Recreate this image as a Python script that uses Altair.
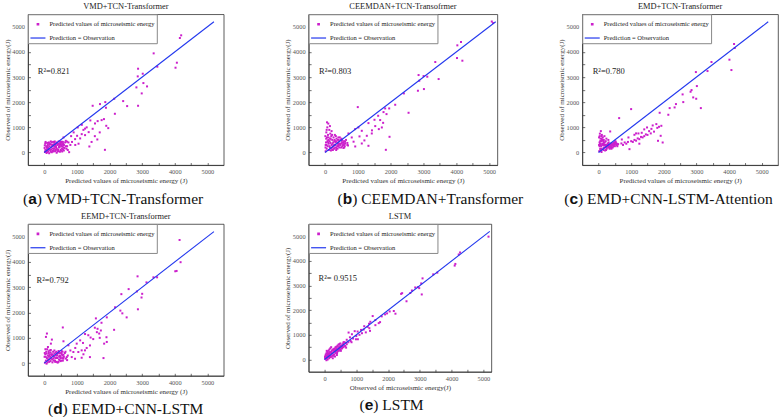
import altair as alt
import pandas as pd

SER_PTS = "Predicted values of microseismic energy"
SER_LINE = "Prediction = Observation"
MAG = "#cc1fcc"
BLUE = "#2338ee"
TICKS = [0, 500, 1000, 1500, 2000, 2500, 3000, 3500, 4000, 4500, 5000]
LINE_X = [0, 5200]
LINE_Y = [0, 5200]
Y_TITLE = "Observed of microseismic energy(J)"

# ---------------- panel (a) VMD+TCN-Transformer ----------------
A_PRED_OUT = [4196, 4156, 3353, 3465, 4064, 4023, 2875, 2865, 3018, 3038,
              3150, 2824, 2987, 2875, 2540, 2418, 2144, 2164, 1870, 1890,
              1707, 1483, 1829, 1758, 1961, 1900, 1636, 1555, 1412, 1483,
              1361, 1626, 1859, 1382, 1250, 1148, 1026, 1006, 945, 823,
              742, 762, 660, 589, 518, 1300, 1200, 1100, 900, 850,
              1050, 1700, 1550, 1450, 700, 800, 950, 600, 680, 1150, 1250]
A_OBS_OUT = [4661, 4555, 3944, 3413, 3572, 3373, 3333, 3028, 3134, 2762,
             2629, 2590, 2351, 1859, 1846, 2045, 2138, 1540, 2005, 1780,
             1926, 1859, 1328, 1288, 969, 1062, 1248, 1155, 1275, 943,
             810, 518, 106, 239, 691, 730, 996, 664, 531, 651,
             398, 13, 465, 598, 398, 1000, 900, 560, 800, 420,
             350, 800, 650, 420, 250, 300, 300, 300, 150, 1100, 950]
A_PRED_CORE = [20, 50, 80, 110, 140, 30, 60, 90, 120, 150,
               180, 210, 240, 270, 300, 330, 360, 390, 420, 450,
               480, 510, 540, 570, 600, 40, 70, 100, 160, 200,
               230, 260, 290, 320, 350, 380, 410, 440, 470, 500,
               530, 560, 590, 620, 10, 130, 190, 250, 310, 370,
               430, 490, 550, 580, 640, 700, 660, 720,
               15, 45, 75, 105, 135, 165, 195, 225, 255, 285,
               315, 345, 375, 405, 435, 465, 495, 525, 555, 585,
               35, 95, 155, 215, 275, 335, 395, 455, 515, 575]
A_OBS_CORE = [20, 100, 200, 300, 400, 350, 250, 150, 50, -30,
              100, 200, 300, 420, 150, 50, 250, 350, 120, 220,
              30, 330, 160, 420, 80, 420, -20, 380, 250, 440,
              10, 160, 320, 440, 100, -10, 300, 440, 200, 100,
              430, 250, 300, 180, 180, 180, 330, 60, 230, 180,
              60, 380, 40, 350, 400, 430, 250, 100,
              280, 380, 60, 240, 120, 330, 30, 400, 260, 90,
              380, 200, 400, 40, 350, 280, 420, 80, 330, 200,
              100, 20, 360, 120, 40, 300, 120, 330, 260, 120]

# ---------------- panel (b) CEEMDAN ----------------
B_PRED_OUT = [4143, 4031, 4184, 4021, 3359, 3461, 3115, 3003, 2850, 2871,
              2830, 3013, 2545, 2402, 2138, 1955, 1873, 1782, 1832, 1619,
              1507, 1323, 1965, 1853, 1731, 1639, 1425, 1273, 1120, 998,
              1018, 916, 814, 713, 611, 509, 407, 1323, 1120, 1530,
              1430, 1200, 1050, 870, 680, 920, 1770, 1680, 5080, 5120]
B_OBS_OUT = [4396, 4263, 3652, 3758, 3599, 2922, 3015, 3041, 3081, 2855,
             2457, 2523, 1580, 2350, 1899, 1753, 1527, 1607, 1753, 1461,
             1301, 1169, 624, 106, 996, 930, 757, 664, 863, 1806,
             996, 930, 598, 757, 425, 465, 598, 266, 358, 1050,
             880, 480, 640, 430, 300, 240, 1180, 1290, 5210, 5150]
B_PRED_CORE = [20, 50, 80, 110, 140, 170, 30, 60, 90, 40,
               70, 100, 60, 130, 160, 190, 220, 250, 280, 310,
               340, 370, 400, 430, 460, 490, 520, 550, 580, 610,
               200, 230, 260, 290, 320, 350, 380, 410, 150, 120,
               180, 240, 300, 200, 100, 20, 10, 50, 150, 330,
               450, 500, 640, 680, 560, 700, 600,
               15, 45, 75, 105, 135, 165, 195, 225, 255, 285,
               315, 345, 375, 405, 435, 465, 495, 525, 555, 585,
               35, 95, 155, 215, 275, 335, 395, 455, 515, 575]
B_OBS_CORE = [50, 150, 250, 350, 450, 550, 400, 600, 700, 800,
              1000, 1150, 1200, 900, 750, 650, 500, 400, 300, 200,
              100, 250, 350, 450, 300, 200, 400, 300, 450, 350,
              300, 200, 600, 500, 400, 550, 150, 250, 200, 100,
              80, 100, 700, 850, 500, 300, 650, 900, 1050, 650,
              600, 550, 500, 380, 180, 280, 250,
              200, 300, 450, 600, 250, 380, 150, 350, 250, 450,
              300, 180, 400, 300, 200, 500, 350, 250, 380, 200,
              550, 400, 550, 700, 150, 450, 500, 350, 500, 300]

# ---------------- panel (c) EMD ----------------
C_PRED_OUT = [4153, 4174, 3461, 4011, 4072, 2983, 3339, 3013, 2850, 2820,
              2901, 2993, 3135, 2576, 2596, 2372, 2331, 2179, 2138, 1873,
              1771, 1853, 1924, 1659, 1486, 1323, 1904, 1965, 1822, 998,
              631, 1222, 1099, 916, 947, 713, 509, 356, 600, 700,
              800, 900, 1000, 1100, 1200, 1300, 1400, 1500, 1600, 1700,
              750, 850, 1050, 1150, 1250, 1350, 1450, 1550, 1620, 1800,
              1250, 1400, 1150]
C_OBS_OUT = [4316, 4157, 3599, 3692, 3280, 3200, 3240, 2643, 2483, 2417,
             2191, 2138, 1766, 2311, 2005, 1926, 1793, 1766, 1501, 1580,
             1129, 1023, 1062, 1076, 996, 784, 664, 398, 465, 1726,
             1368, 757, 704, 598, 133, 518, 398, 837, 330, 360,
             400, 420, 450, 500, 560, 620, 650, 700, 760, 830,
             300, 350, 420, 470, 530, 600, 720, 850, 940, 980,
             350, 920, 760]
C_PRED_CORE = [20, 50, 80, 110, 140, 170, 200, 230, 260, 290,
               320, 350, 380, 410, 440, 470, 500, 530, 560, 30,
               60, 90, 40, 70, 100, 130, 160, 190, 220, 250,
               280, 310, 340, 370, 30, 60, 100, 150, 200, 15,
               120, 240, 300, 180, 50, 90, 400, 450, 500, 70, 160,
               15, 45, 75, 105, 135, 165, 195, 225, 255, 285,
               315, 345, 375, 405, 435, 465, 495, 525, 555, 585,
               35, 95, 155, 215, 275, 335, 395, 455, 515, 575]
C_OBS_CORE = [50, 150, 250, 350, 450, 300, 200, 100, 300, 250,
              200, 300, 250, 350, 300, 380, 320, 400, 350, 400,
              550, 650, 750, 850, 700, 600, 500, 400, 450, 150,
              350, 400, 150, 200, 250, 100, 150, 100, 80, 600,
              500, 550, 500, 650, 450, 20, 200, 250, 250, 300, 200,
              300, 350, 450, 500, 300, 400, 300, 250, 200, 350,
              300, 250, 350, 300, 200, 300, 400, 350, 300, 330,
              650, 550, 350, 300, 250, 200, 150, 380, 450, 250]

# ---------------- panel (d) EEMD ----------------
D_PRED_OUT = [4147, 4178, 4056, 4015, 3458, 3346, 3133, 2859, 2839, 3001,
              2981, 2870, 2586, 2363, 2170, 2332, 2393, 2525, 2140, 1916,
              1754, 1582, 1734, 1612, 1633, 1683, 1906, 1916, 1835, 1815,
              1349, 1420, 1186, 1247, 1146, 1044, 994, 568, 588, 740,
              892, 690, 842, 943, 1146, 1399, 81, 51, 233, 203,
              112, 1300, 1100, 1500, 1400, 800, 950, 1200, 650, 1700,
              1550, 1250]
D_OBS_OUT = [4868, 3990, 3644, 3631, 3392, 3392, 3192, 3431, 2833, 2740,
             2594, 2128, 2926, 2727, 2208, 2075, 1968, 1809, 1317, 1809,
             1596, 1769, 1290, 1224, 1357, 1170, 1024, 838, 771, 200,
             1104, 1011, 798, 505, 505, 439, 771, 1410, 864, 705,
             439, 239, 239, 173, 213, 239, 1170, 1037, 931, 771,
             638, 600, 900, 950, 700, 500, 600, 350, 450, 1000,
             1400, 1150]
D_PRED_CORE = [20, 50, 80, 110, 140, 170, 30, 60, 90, 120,
               150, 180, 210, 240, 270, 300, 330, 360, 390, 420,
               450, 480, 510, 540, 570, 600, 630, 200, 250, 310,
               380, 440, 500, 560, 10, 70, 130, 190, 280, 350,
               410, 470, 530, 590, 660, 720, 700,
               15, 45, 75, 105, 135, 165, 195, 225, 255, 285,
               315, 345, 375, 405, 435, 465, 495, 525, 555, 585,
               35, 95, 155, 215, 275, 335, 395, 455, 515, 575]
D_OBS_CORE = [20, 100, 200, 300, 400, 500, 350, 450, 550, 150,
              50, 250, 350, 150, 450, 250, 100, 300, 200, 400,
              150, 300, 200, 350, 100, 250, 400, 520, 30, 500,
              50, 480, 80, 450, 250, -20, 470, 80, 180, 420,
              20, 120, 480, 330, 180, 300, 120,
              400, 250, 380, 100, 250, 150, 420, 300, 350, 100,
              380, 200, 450, 300, 50, 400, 250, 100, 300, 180,
              550, 30, 320, 200, 300, 50, 350, 250, 400, 200]

# ---------------- panel (e) LSTM ----------------
E_PRED_OUT = [5160, 4265, 4223, 4117, 4096, 3549, 3422, 3085, 3043, 2938,
              2980, 2854, 2411, 2443, 2580, 2180, 2232, 1969, 1906, 1748,
              1706, 1601, 1516, 1443, 1358, 1432, 1411, 1232, 1179, 1042,
              990, 863, 758, 821, 674, 3060, 1600, 1800, 1250, 1100,
              1000, 900, 950, 800, 700, 650, 600, 1300, 1400, 1150,
              850, 1050, 2050, 2700, 2750]
E_OBS_OUT = [4986, 4344, 4262, 3879, 3811, 3524, 3456, 3292, 3087, 2937,
             2896, 2923, 2664, 2691, 2363, 1967, 1858, 1871, 1830, 1516,
             1475, 1393, 1762, 1530, 1325, 1161, 1270, 1216, 1065, 1134,
             820, 1024, 1093, 751, 683, 2640, 1600, 1750, 1350, 1000,
             950, 850, 1150, 900, 800, 550, 700, 1100, 1450, 1200,
             700, 820, 1950, 2700, 2800]
E_PRED_CORE = [20, 50, 80, 110, 140, 170, 200, 230, 260, 290,
               320, 350, 380, 410, 440, 470, 500, 530, 560, 590,
               620, 30, 60, 90, 120, 150, 180, 210, 100, 150,
               200, 250, 300, 350, 400, 450, 500, 550, 600, 650,
               40, 70, 120, 180, 240, 300, 360, 420, 480, 260,
               330, 390, 60, 700, 680, 750,
               15, 45, 75, 105, 135, 165, 195, 225, 255, 285,
               315, 345, 375, 405, 435, 465, 495, 525, 555, 585,
               35, 95, 155, 215, 275, 335, 395, 455, 515, 575]
E_OBS_CORE = [30, 80, 120, 150, 200, 250, 300, 350, 380, 420,
              450, 500, 520, 560, 600, 630, 650, 550, 600, 650,
              700, 150, 250, 300, 350, 400, 450, 500, 0, 50,
              100, 150, 200, 250, 300, 350, 400, 450, 500, 550,
              200, 350, 250, 150, 250, 330, 380, 420, 500, 50,
              120, 180, -30, 620, 480, 700,
              100, 150, 50, 250, 100, 300, 150, 250, 400, 200,
              350, 300, 450, 350, 500, 400, 550, 450, 500, 600,
              60, 200, 100, 300, 150, 400, 250, 450, 350, 500]

PANELS = [
    dict(pred=A_PRED_OUT + A_PRED_CORE, obs=A_OBS_OUT + A_OBS_CORE,
         title="VMD+TCN-Transformer", xtitle="Predicted values of microseismic energy (J)",
         r2="R²=0.821", r2x=-200, r2y=3120, letter="a", lw=8.6,
         caption="VMD+TCN-Transformer", capx=-5, w=196, h=151, xmax=5500),
    dict(pred=B_PRED_OUT + B_PRED_CORE, obs=B_OBS_OUT + B_OBS_CORE,
         title="CEEMDAN+TCN-Transofrmer", xtitle="Predicted values of microseismic energy (J)",
         r2="R²=0.803", r2x=-180, r2y=3120, letter="b", lw=9.5,
         caption="CEEMDAN+Transformer", capx=29, w=189, h=151, xmax=5250),
    dict(pred=C_PRED_OUT + C_PRED_CORE, obs=C_OBS_OUT + C_OBS_CORE,
         title="EMD+TCN-Transformer", xtitle="Predicted values of microseismic energy (J)",
         r2="R²=0.780", r2x=-180, r2y=3120, letter="c", lw=8.6,
         caption="EMD+CNN-LSTM-Attention", capx=-18, w=196, h=151, xmax=5500),
    dict(pred=D_PRED_OUT + D_PRED_CORE, obs=D_OBS_OUT + D_OBS_CORE,
         title="EEMD+TCN-Transformer", xtitle="Predicted values of microseismic energy (J)",
         r2="R²=0.792", r2x=-235, r2y=3170, letter="d", lw=9.5,
         caption="EEMD+CNN-LSTM", capx=20, w=196, h=152, xmax=5500),
    dict(pred=E_PRED_OUT + E_PRED_CORE, obs=E_OBS_OUT + E_OBS_CORE,
         title="LSTM", xtitle="Observed of microseismic energy(J)",
         r2="R²= 0.9515", r2x=-185, r2y=3170, letter="e", lw=8.6,
         caption="LSTM", capx=51, w=183, h=148, xmax=5250),
]

AX_MAIN = dict(values=TICKS, labelExpr="datum.value % 1000 === 0 ? '' + datum.value : ''",
               labelOverlap=False, labelFlush=False,
               labelFont="Liberation Serif", labelFontSize=6.4, labelColor="#555",
               titleFont="Liberation Serif", titleFontSize=7, titleColor="#333",
               titleFontWeight="normal", domainColor="#333", domainWidth=0.8,
               ticks=False, labelPadding=3.5, titlePadding=1.5, grid=False)
AX_TICK = dict(values=TICKS, labels=False, domain=False, ticks=True, tickSize=2.5,
               tickColor="#333", tickWidth=0.7, title=None, grid=False)

IS_LINE = f"datum.value === '{SER_LINE}'"
LEG = alt.Legend(
    title=None, orient="top-left", offset=0, padding=1.5,
    fillColor="white", strokeColor="#888",
    labelFont="Liberation Serif", labelFontSize=6.5, labelColor="#222",
    labelOffset=3, rowPadding=1.8, symbolSize=225, symbolStrokeWidth=1.2,
    symbolOpacity=1,
    symbolType={"expr": f"{IS_LINE} ? 'stroke' : 'M-0.1,-0.1H0.1V0.1H-0.1Z'"},
    symbolFillColor={"expr": f"{IS_LINE} ? 'transparent' : '{MAG}'"},
    symbolStrokeColor={"expr": f"{IS_LINE} ? '{BLUE}' : 'transparent'"})


def build(p):
    pts = pd.DataFrame({"x": p["pred"], "y": p["obs"], "s": SER_PTS})
    ln = pd.DataFrame({"x": LINE_X, "y": LINE_Y, "s": SER_LINE})
    xs = alt.Scale(domain=[-500, p["xmax"]], nice=False, zero=False)
    ys = alt.Scale(domain=[-500, 5500], nice=False, zero=False)
    color = alt.Color("s:N", scale=alt.Scale(domain=[SER_PTS, SER_LINE], range=[MAG, BLUE]),
                      legend=LEG)
    points = alt.Chart(pts).mark_square(size=4, opacity=1).encode(
        x=alt.X("x:Q", scale=xs, axis=alt.Axis(title=p["xtitle"], **AX_MAIN)),
        y=alt.Y("y:Q", scale=ys, axis=alt.Axis(title=Y_TITLE, **AX_MAIN)),
        color=color)
    line = alt.Chart(ln).mark_line(strokeWidth=1.1, clip=True).encode(
        x=alt.X("x:Q", scale=xs, axis=alt.Axis(orient="bottom", offset=-2.5, **AX_TICK)),
        y=alt.Y("y:Q", scale=ys, axis=alt.Axis(orient="left", offset=-2.5, **AX_TICK)),
        color=color)
    r2df = pd.DataFrame({"x": [p["r2x"]], "y": [p["r2y"]], "t": [p["r2"]]})
    r2 = alt.Chart(r2df).mark_text(align="left", baseline="alphabetic",
                                   font="Liberation Serif", fontSize=8.5, color="#222").encode(
        x=alt.X("x:Q", scale=xs, axis=None), y=alt.Y("y:Q", scale=ys, axis=None), text="t:N")
    cy = p["h"] + 38.7
    c0 = p["capx"]
    cap_df = pd.DataFrame({"a": ["("], "b": [p["letter"]], "c": [") " + p["caption"]]})
    cap1 = alt.Chart(cap_df).mark_text(align="left", baseline="alphabetic",
                                       font="Liberation Serif", fontSize=15.5, color="#111").encode(
        x=alt.value(c0), y=alt.value(cy), text="a:N")
    cap2 = alt.Chart(cap_df).mark_text(align="left", baseline="alphabetic",
                                       font="Liberation Sans", fontWeight="bold",
                                       fontSize=15.5, color="#111").encode(
        x=alt.value(c0 + 5.2), y=alt.value(cy), text="b:N")
    cap3 = alt.Chart(cap_df).mark_text(align="left", baseline="alphabetic",
                                       font="Liberation Serif", fontSize=15.5, color="#111").encode(
        x=alt.value(c0 + 5.2 + p["lw"]), y=alt.value(cy), text="c:N")
    return alt.layer(points, line, r2, cap1, cap2, cap3).resolve_axis(
        x="independent", y="independent").properties(
        width=p["w"], height=p["h"],
        title=alt.Title(p["title"], font="Liberation Serif", fontSize=8.4,
                        fontWeight="normal", color="#222", offset=3, anchor="middle"))


charts = [build(p) for p in PANELS]

chart = alt.concat(*charts, columns=3, spacing={"row": 59, "column": 85},
                   bounds="flush", align="each").resolve_scale(
    color="independent", x="independent", y="independent").resolve_legend(
    color="independent").configure_view(stroke="#333", strokeWidth=0.8).properties(
    padding={"left": 2, "top": 1, "right": 0, "bottom": 0}, background="white")

chart.save("out.html", embed_options={"renderer": "svg", "actions": False})
